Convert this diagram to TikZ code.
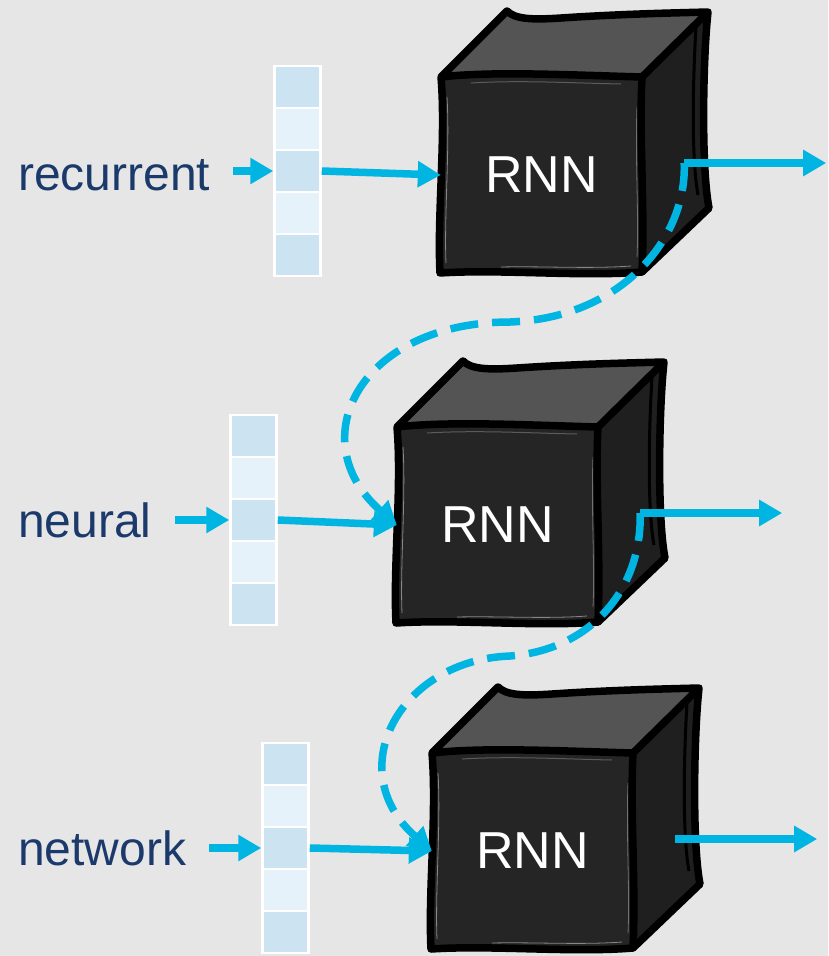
\documentclass[tikz,border=0pt]{standalone}
\usepackage{fontspec}
\setmainfont{Liberation Sans}
\usetikzlibrary{arrows.meta,calc}
\definecolor{bggray}{HTML}{E6E6E6}
\definecolor{flowblue}{HTML}{00B5E2}
\definecolor{wordnavy}{HTML}{1B3A6B}
\definecolor{celldark}{HTML}{CCE3F2}
\definecolor{celllight}{HTML}{E6F2FA}
\definecolor{cubetop}{HTML}{545454}
\definecolor{cubefront}{HTML}{252525}
\definecolor{cubeside}{HTML}{1F1F1F}
\tikzset{
    rnncube/.pic={
        % Top face
        \fill[cubetop] (0,0) -- (66,-66) .. controls (74,-58) and (90,-57) .. (120,-59) .. controls (180,-63) and (230,-64) .. (267,-65) -- (201,0) .. controls (130,-2) and (50,-6) .. (0,0) -- cycle;
        % Side face
        \fill[cubeside] (201,0) -- (267,-65) .. controls (262,-20) and (260,90) .. (268,131) -- (201,195) .. controls (204,130) and (198,60) .. (201,0) -- cycle;
        % Front face
        \fill[cubefront] (0,0) .. controls (50,-6) and (130,-2) .. (201,0) .. controls (198,60) and (204,130) .. (201,195) .. controls (140,200) and (60,192) .. (-1,196) .. controls (-4,140) and (5,60) .. (0,0) -- cycle;
        % Sketchy highlights
        \draw[white, opacity=.45, line width=.8pt] (6,20) .. controls (9,70) and (3,140) .. (5,186);
        \draw[white, opacity=.35, line width=.8pt] (196,30) .. controls (194,80) and (198,140) .. (196,180);
        \draw[white, opacity=.45, line width=.8pt] (60,190) .. controls (100,189) and (150,192) .. (190,189);
        \draw[gray, opacity=.6, line width=1pt] (30,6) .. controls (80,3) and (130,6) .. (180,7);
        \draw[black, line width=3pt] (255,-50) .. controls (252,0) and (250,80) .. (257,118);
        % Edge lines
        \draw[line width=7.5pt, line join=round] (0,0) -- (66,-66) .. controls (74,-58) and (90,-57) .. (120,-59) .. controls (180,-63) and (230,-64) .. (267,-65) .. controls (262,-20) and (260,90) .. (268,131) -- (201,195) .. controls (140,200) and (60,192) .. (-1,196) .. controls (-4,140) and (5,60) .. (0,0) -- cycle;
        \draw[line width=7.5pt, line join=round] (0,0) .. controls (50,-6) and (130,-2) .. (201,0) -- (267,-65);
        \draw[line width=7.5pt] (201,0) .. controls (198,60) and (204,130) .. (201,195);
    }
}
\begin{document}
\begin{tikzpicture}[x=1pt, y=-1pt,
    flow/.style={draw=flowblue, line width=7.5pt, -{Triangle[length=23pt, width=25pt]}},
    loopback/.style={flow, dash pattern=on 28pt off 14pt},
    word/.style={text=wordnavy, font=\fontsize{48}{56}\selectfont, inner sep=0pt, anchor=base west},
    cell/.style={draw=white, line width=2.5pt, minimum width=46pt, minimum height=42pt, inner sep=0pt},
    rnn/.style={text=white, font=\fontsize{52}{60}\selectfont, minimum width=201pt, minimum height=196pt, inner sep=0pt}]
    \fill[bggray] (0,0) rectangle (828,956);
    \useasboundingbox (0,0) rectangle (828,956);

    % input words
    \node[word] (w1) at (18,190) {recurrent};
    \node[word] (w2) at (18,537) {neural};
    \node[word] (w3) at (18,865) {network};

    % one-hot style input vectors
    \foreach \v/\x/\y in {1/297.5/66, 2/253.5/415, 3/285.5/743}{
        \foreach \c in {1,...,5}{
            \ifodd\c \def\cellcol{celldark}\else\def\cellcol{celllight}\fi
            \node[cell, fill=\cellcol] (v\v c\c) at (\x, {\y+21+42*(\c-1)}) {};
        }
    }

    % the three cubes
    \pic at (441,77) {rnncube};
    \node[rnn] (rnn1) at (541.5,175) {RNN};
    \pic at (397,427) {rnncube};
    \node[rnn] (rnn2) at (497.5,525) {RNN};
    \pic at (432,753) {rnncube};
    \node[rnn] (rnn3) at (532.5,851) {RNN};

    \coordinate (out1) at ($(rnn1.east)+(42,-12)$);
    \coordinate (out2) at ($(rnn2.east)+(42,-12)$);
    \coordinate (out3) at ($(rnn3.east)+(42,-12)$);

    % words into vectors, vectors into cubes
    \foreach \i in {1,2,3}{
        \draw[flow, shorten <=23pt] (w\i.east |- v\i c3.west) -- (v\i c3.west);
        \draw[flow] (v\i c3.east) -- (rnn\i.west);
        \draw[flow] (out\i) -- ($(out\i)+(142,0)$);
    }

    % hidden state passed down
    \draw[loopback] (out1) .. controls (687,240) and (620,318) .. (510,322) .. controls (360,322) and (300,440) .. (rnn2.west);
    \draw[loopback] (out2) .. controls (642,590) and (590,650) .. (510,656) .. controls (400,660) and (340,770) .. (rnn3.west);
\end{tikzpicture}
\end{document}
